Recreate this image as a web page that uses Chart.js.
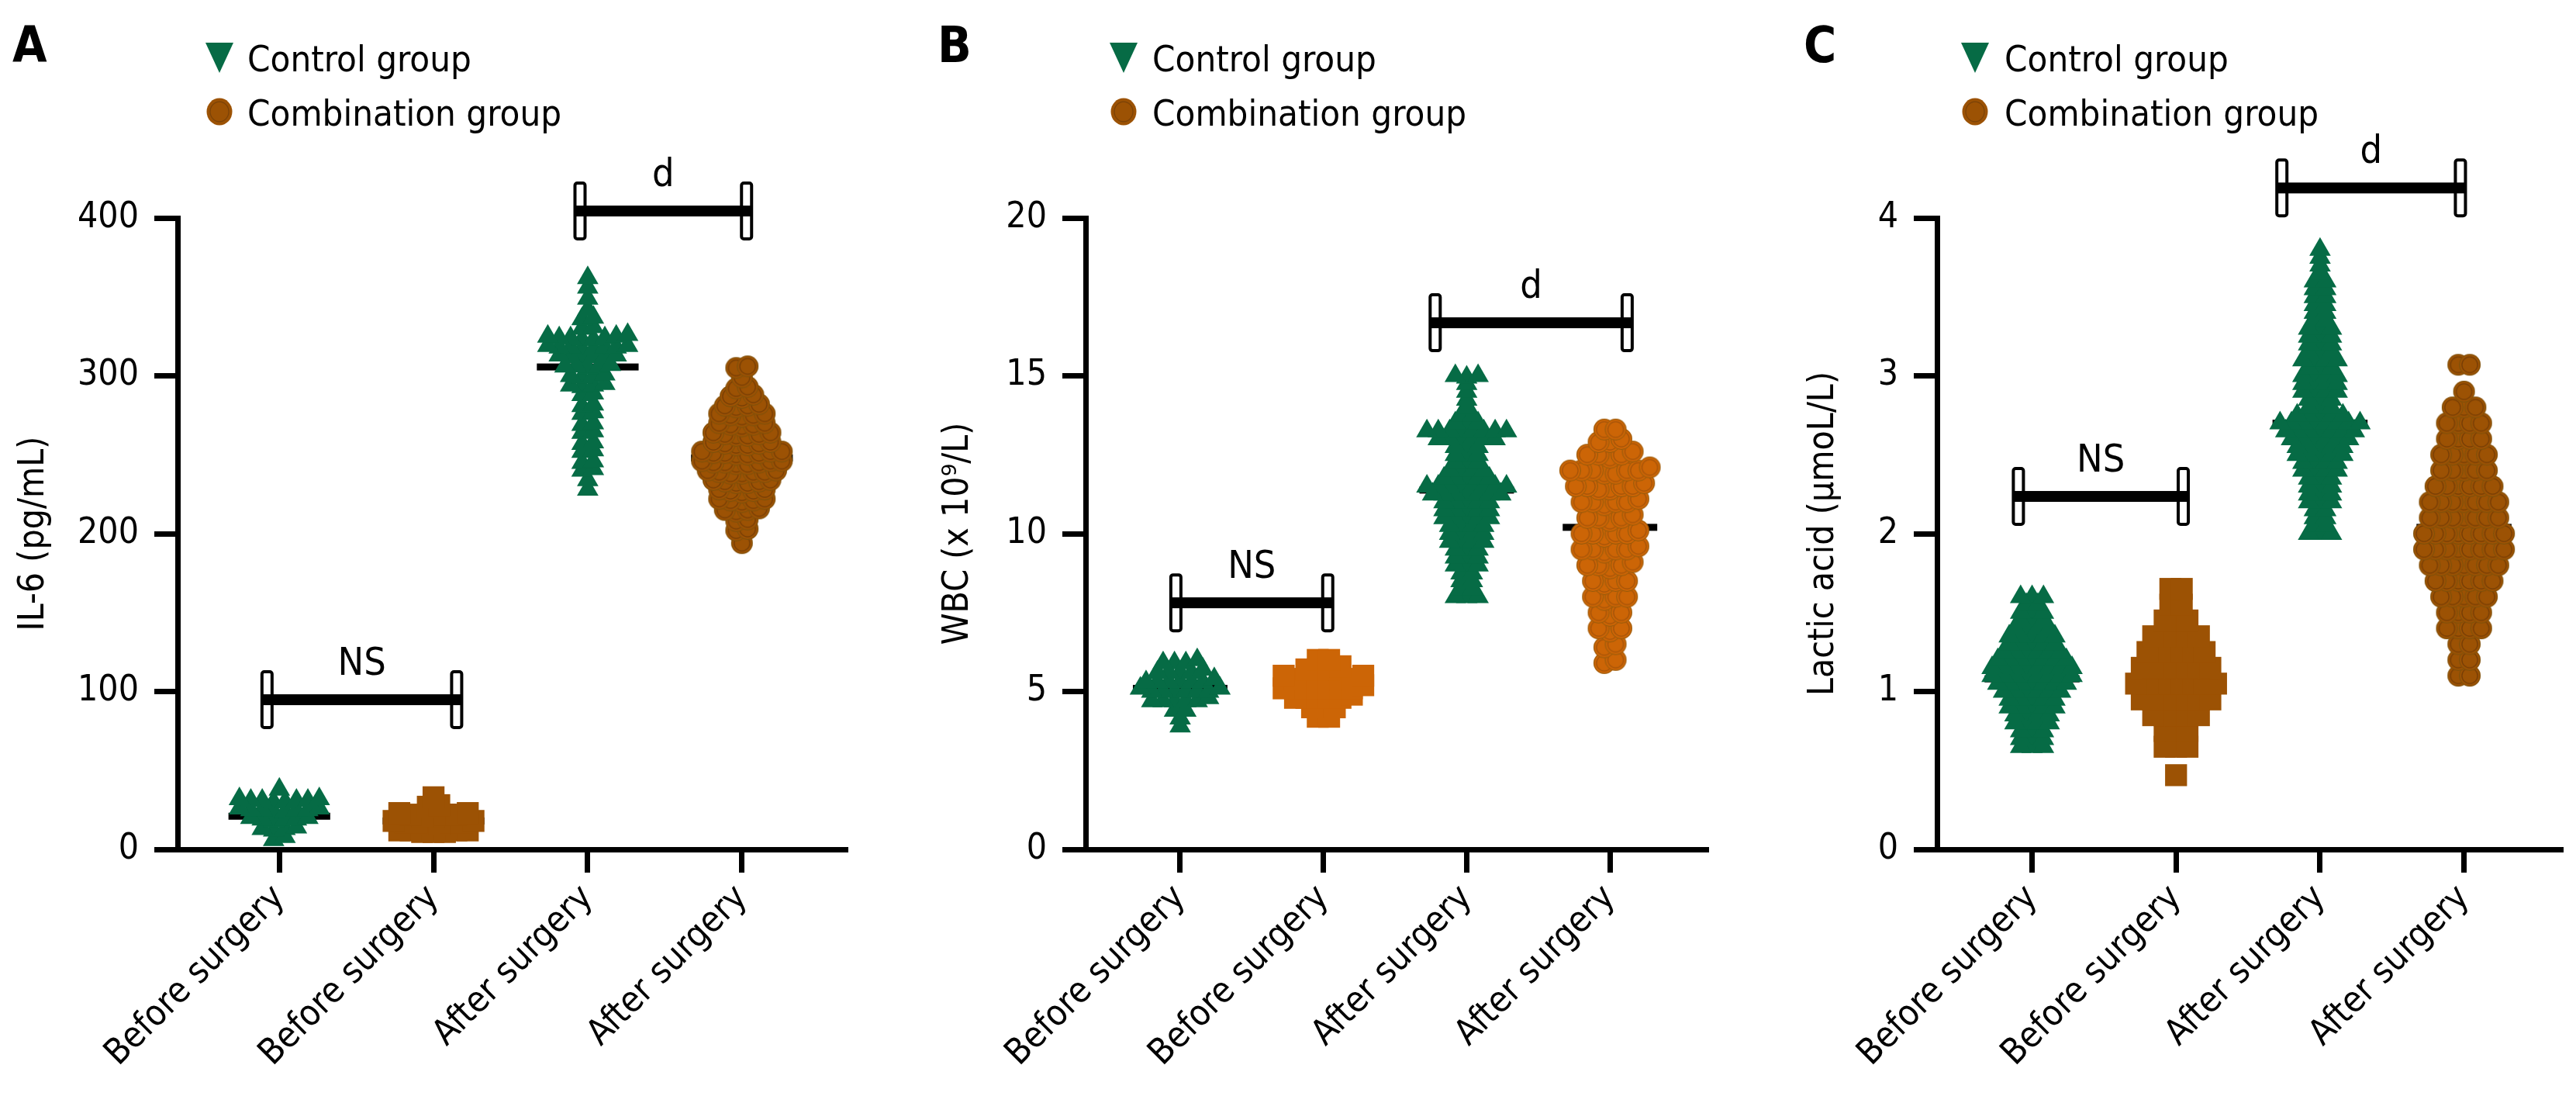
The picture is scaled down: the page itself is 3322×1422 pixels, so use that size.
<!DOCTYPE html>
<html>
<head>
<meta charset="utf-8">
<script src="https://cdn.jsdelivr.net/npm/chart.js@4.4.1/dist/chart.umd.min.js"></script>
<style>
  html, body { margin:0; padding:0; background:#fff; }
  body { width:3322px; height:1422px; position:relative; overflow:hidden; }
  canvas { position:absolute; top:0; }
</style>
</head>
<body>
<canvas id="cA" width="1110" height="1422" style="left:0px;width:1110px;height:1422px"></canvas>
<canvas id="cB" width="1110" height="1422" style="left:1110px;width:1110px;height:1422px"></canvas>
<canvas id="cC" width="1110" height="1422" style="left:2212px;width:1110px;height:1422px"></canvas>
<script>
// ---------------- DATA ----------------
const categories = ['Before surgery', 'Before surgery', 'After surgery', 'After surgery'];
const legendLabels = ['Control group', 'Combination group'];
const panelLetters = ['A', 'B', 'C'];
const yTitles = ['IL-6 (pg/mL)', 'WBC (x 10\u2079/L)', 'Lactic acid (\u00b5moL/L)'];

const il6Ticks = [0, 100, 200, 300, 400];
const wbcTicks = [0, 5, 10, 15, 20];
const lacticTicks = [0, 1, 2, 3, 4];

// IL-6 (pg/mL)
const il6BeforeControl = [38, 32, 31, 31, 31, 30, 32, 31, 30, 26, 25, 25, 24, 26, 25, 24, 25, 20, 19, 19, 18, 20, 19, 14, 13, 12, 13, 8, 6];
const il6BeforeCombination = [33, 27, 28, 23, 22, 22, 21, 22, 23, 21, 17, 18, 17, 16, 17, 18, 16, 17, 12, 11, 12, 12, 11, 12, 11];
const il6AfterControl = [362, 356, 349, 342, 336, 337, 330, 331,
  324, 325, 323, 324, 326, 324, 325, 323,
  318, 319, 317, 318, 318, 319, 317, 318,
  312, 313, 311, 312, 312, 313,
  306, 305, 306, 307, 306,
  300, 301, 299, 300,
  294, 295, 293, 294,
  288, 289, 282, 281, 276, 277, 270, 269, 264, 265, 258, 257, 252, 253, 246, 245, 240, 241, 234, 228];
const il6AfterCombination = [305, 306, 299, 293, 292, 287, 288, 286,
  281, 282, 280, 281,
  275, 276, 274, 275, 276,
  269, 270, 268, 269, 270,
  263, 264, 262, 263, 264, 262,
  257, 258, 256, 257, 258, 256,
  251, 252, 250, 251, 252, 250, 251, 252,
  245, 246, 244, 245, 246, 244, 245, 246,
  239, 240, 238, 239, 240, 238, 239,
  233, 234, 232, 233, 234, 232,
  227, 228, 226, 227, 228,
  221, 222, 220, 221, 222,
  215, 216, 214, 215,
  209, 208, 203, 202, 194];
const il6Means = [21, 18, 305.6, 248];

// WBC (x 10^9/L)
const wbcBeforeControl = [5.9, 6.0, 5.9, 5.9,
  5.6, 5.6, 5.7, 5.6, 5.6,
  5.3, 5.3, 5.3, 5.4, 5.3, 5.3, 5.3,
  5.0, 5.0, 5.1, 5.0, 5.0, 5.0, 5.0, 5.1,
  4.7, 4.7, 4.7, 4.8, 4.7, 4.7,
  4.4, 4.4, 4.15, 3.9];
const wbcBeforeCombination = [6.0, 6.0,
  5.7, 5.7, 5.7, 5.8,
  5.4, 5.4, 5.4, 5.5, 5.4, 5.4, 5.4, 5.5,
  5.1, 5.1, 5.1, 5.2, 5.1, 5.1, 5.1, 5.1,
  4.8, 4.8, 4.8, 4.9, 4.8, 4.8,
  4.5, 4.5, 4.5, 4.2, 4.2];
const wbcAfterControl = [15.0, 15.0, 14.95, 14.75, 14.5, 14.25, 14.0,
  13.75, 13.75, 13.5, 13.5, 13.5,
  13.25, 13.25, 13.25, 13.25, 13.25, 13.25, 13.25, 13.25,
  13.0, 13.0, 13.0, 13.0, 13.0, 13.0,
  12.75, 12.75, 12.75, 12.5, 12.5, 12.5, 12.25, 12.25, 12.25,
  12.0, 12.0, 12.0, 12.0,
  11.75, 11.75, 11.75, 11.75, 11.75,
  11.5, 11.5, 11.5, 11.5, 11.5, 11.5, 11.5, 11.5,
  11.25, 11.25, 11.25, 11.25, 11.25, 11.25, 11.25,
  11.0, 11.0, 11.0, 11.0, 11.0,
  10.75, 10.75, 10.75, 10.75, 10.75,
  10.5, 10.5, 10.5, 10.5, 10.5,
  10.25, 10.25, 10.25, 10.25,
  10.0, 10.0, 10.0, 10.0,
  9.75, 9.75, 9.75, 9.75,
  9.5, 9.5, 9.5, 9.25, 9.25, 9.25, 9.0, 9.0, 9.0,
  8.75, 8.75, 8.5, 8.5, 8.25, 8.25, 8.0, 8.0, 8.0];
const wbcAfterCombination = [13.3, 13.3,
  12.9, 13.0, 12.9,
  12.5, 12.5, 12.4, 12.5, 12.6,
  12.0, 12.0, 11.9, 12.0, 12.1, 12.0, 11.9, 12.0,
  11.5, 11.5, 11.4, 11.5, 11.6, 11.5, 11.4,
  11.0, 11.0, 10.9, 11.0, 11.1, 11.0,
  10.5, 10.5, 10.4, 10.5, 10.6,
  10.0, 10.0, 9.9, 10.0, 10.1, 10.0,
  9.5, 9.5, 9.4, 9.5, 9.6, 9.5,
  9.0, 9.0, 8.9, 9.0, 9.1,
  8.5, 8.5, 8.4, 8.5,
  8.0, 8.0, 7.9, 8.0,
  7.5, 7.5, 7.4,
  7.0, 7.0, 6.9,
  6.5, 6.4,
  6.0, 5.9];
const wbcMeans = [5.1, 5.1, 11.38, 10.2];

// Lactic acid (umol/L)
const lacticBeforeControl = [1.60, 1.60, 1.60, 1.55, 1.55,
  1.50, 1.50, 1.50, 1.45, 1.45, 1.45,
  1.40, 1.40, 1.40, 1.40,
  1.35, 1.35, 1.35, 1.35, 1.35,
  1.30, 1.30, 1.30, 1.30, 1.30,
  1.25, 1.25, 1.25, 1.25, 1.25, 1.25,
  1.20, 1.20, 1.20, 1.20, 1.20, 1.20, 1.20,
  1.15, 1.15, 1.15, 1.15, 1.15, 1.15, 1.15, 1.15,
  1.10, 1.10, 1.10, 1.10, 1.10, 1.10, 1.10, 1.10,
  1.05, 1.05, 1.05, 1.05, 1.05, 1.05, 1.05,
  1.00, 1.00, 1.00, 1.00, 1.00, 1.00,
  0.95, 0.95, 0.95, 0.95, 0.95,
  0.90, 0.90, 0.90, 0.90, 0.90,
  0.85, 0.85, 0.85, 0.85,
  0.80, 0.80, 0.80, 0.80,
  0.75, 0.75, 0.75, 0.70, 0.70, 0.70, 0.65, 0.65, 0.65];
const lacticBeforeCombination = [1.65, 1.65,
  1.55, 1.55,
  1.45, 1.45, 1.45,
  1.35, 1.35, 1.35, 1.35, 1.35,
  1.25, 1.25, 1.25, 1.25, 1.25, 1.25,
  1.15, 1.15, 1.15, 1.15, 1.15, 1.15, 1.15,
  1.05, 1.05, 1.05, 1.05, 1.05, 1.05, 1.05, 1.05,
  0.95, 0.95, 0.95, 0.95, 0.95, 0.95, 0.95,
  0.85, 0.85, 0.85, 0.85, 0.85,
  0.75, 0.75, 0.75,
  0.65, 0.65, 0.65,
  0.47];
const lacticAfterControl = [3.80, 3.75, 3.70, 3.65, 3.60, 3.60, 3.55, 3.55,
  3.50, 3.50, 3.45, 3.45, 3.40, 3.40, 3.35, 3.35,
  3.30, 3.30, 3.30, 3.25, 3.25, 3.25, 3.20, 3.20, 3.20, 3.15, 3.15, 3.15,
  3.10, 3.10, 3.10, 3.10, 3.05, 3.05, 3.05,
  3.00, 3.00, 3.00, 3.00, 2.95, 2.95, 2.95, 2.95,
  2.90, 2.90, 2.90, 2.90, 2.85, 2.85, 2.85, 2.80, 2.80, 2.80,
  2.75, 2.75, 2.75, 2.75, 2.75,
  2.70, 2.70, 2.70, 2.70, 2.70, 2.70, 2.70, 2.70,
  2.65, 2.65, 2.65, 2.65, 2.65, 2.65, 2.65,
  2.60, 2.60, 2.60, 2.60, 2.60, 2.60,
  2.55, 2.55, 2.55, 2.55, 2.55,
  2.50, 2.50, 2.50, 2.50, 2.50,
  2.45, 2.45, 2.45, 2.45, 2.40, 2.40, 2.40, 2.40,
  2.35, 2.35, 2.35, 2.30, 2.30, 2.30, 2.25, 2.25, 2.25, 2.20, 2.20, 2.20,
  2.15, 2.15, 2.10, 2.10, 2.05, 2.05, 2.00, 2.00, 2.00];
const lacticAfterCombination = [3.07, 3.07, 2.9,
  2.8, 2.8, 2.8,
  2.7, 2.7, 2.7, 2.7,
  2.6, 2.6, 2.6, 2.6,
  2.5, 2.5, 2.5, 2.5, 2.5,
  2.4, 2.4, 2.4, 2.4, 2.4,
  2.3, 2.3, 2.3, 2.3, 2.3, 2.3,
  2.2, 2.2, 2.2, 2.2, 2.2, 2.2, 2.2,
  2.1, 2.1, 2.1, 2.1, 2.1, 2.1, 2.1,
  2.0, 2.0, 2.0, 2.0, 2.0, 2.0, 2.0, 2.0,
  1.9, 1.9, 1.9, 1.9, 1.9, 1.9, 1.9, 1.9,
  1.8, 1.8, 1.8, 1.8, 1.8, 1.8, 1.8,
  1.7, 1.7, 1.7, 1.7, 1.7, 1.7,
  1.6, 1.6, 1.6, 1.6, 1.6,
  1.5, 1.5, 1.5, 1.5,
  1.4, 1.4, 1.4, 1.4,
  1.3, 1.3, 1.2, 1.2, 1.1, 1.1];
const lacticMeans = [1.08, 1.03, 2.70, 2.04];

// significance brackets: [fromCategory, toCategory, value, label]
const il6Brackets = [[-0.08, 1.15, 94.8, 'NS'], [1.95, 3.03, 404.4, 'd']];
const wbcBrackets = [[-0.03, 1.03, 7.81, 'NS'], [1.78, 3.12, 16.68, 'd']];
const lacticBrackets = [[-0.095, 1.05, 2.236, 'NS'], [1.735, 2.975, 4.19, 'd']];

// ---------------- STYLE / LAYOUT ----------------
const FONT = "'DejaVu Sans Condensed', 'DejaVu Sans', sans-serif";
const GREEN = '#066b45';
const BROWN = '#9c5204';
const ORANGE = '#cc6506';
const PLOT_TOP = 281, PLOT_H = 814;

Chart.defaults.font.family = FONT;
Chart.defaults.color = '#000';

function makeCircle(r, fill, ring) {
  const c = document.createElement('canvas');
  const s = Math.ceil(2 * r + 2);
  c.width = s; c.height = s;
  const g = c.getContext('2d');
  g.fillStyle = fill;
  g.beginPath(); g.arc(s / 2, s / 2, r, 0, Math.PI * 2); g.fill();
  g.strokeStyle = ring; g.lineWidth = 1.3;
  g.beginPath(); g.arc(s / 2, s / 2, r * 0.72, 0, Math.PI * 2); g.stroke();
  g.strokeStyle = 'rgba(90,80,20,0.5)'; g.lineWidth = 1;
  g.beginPath(); g.arc(s / 2, s / 2, r - 0.5, 0, Math.PI * 2); g.stroke();
  return c;
}

// scatter-dot layout: values that fall in the same row are spread sideways, centred on the category
function rowLayout(values, cat, ppc, cw, tol, maxHalf) {
  const sorted = values.slice().sort((a, b) => a - b);
  const rows = [];
  let cur = null;
  sorted.forEach(v => {
    if (!cur || v - cur.start >= tol) { cur = { start: v, vals: [] }; rows.push(cur); }
    cur.vals.push(v);
  });
  const out = [];
  rows.forEach(r => {
    const n = r.vals.length;
    const sp = n > 1 ? Math.min(cw, 2 * maxHalf / (n - 1)) : 0;
    const order = [];
    for (let j = 0; j < n; j++) order.push(j);
    order.sort((a, b) => Math.abs(a - (n - 1) / 2) - Math.abs(b - (n - 1) / 2));
    r.vals.forEach((v, k) => {
      const j = order[k];
      const off = (j - (n - 1) / 2) * sp;
      out.push({ x: cat + off / ppc, y: v });
    });
  });
  return out;
}

const panels = [
  { id: 'cA', letter: panelLetters[0], yTitle: yTitles[0], ticks: il6Ticks,
    groups: [il6BeforeControl, il6BeforeCombination, il6AfterControl, il6AfterCombination],
    means: il6Means, brackets: il6Brackets, comboColor: BROWN, tol: [4, 4, 4, 4],
    yw: 229, padRight: 4, titlePad: 16, ppc: 202.7,
    letterX: 16, legendX: 283, legendTextX: 319 },
  { id: 'cB', letter: panelLetters[1], yTitle: yTitles[1], ticks: wbcTicks,
    groups: [wbcBeforeControl, wbcBeforeCombination, wbcAfterControl, wbcAfterCombination],
    means: wbcMeans, brackets: wbcBrackets, comboColor: ORANGE, tol: [0.15, 0.15, 0.12, 0.22],
    yw: 290, padRight: 2, titlePad: 98, ppc: 189,
    letterX: 99, legendX: 339, legendTextX: 376 },
  { id: 'cC', letter: panelLetters[2], yTitle: yTitles[2], ticks: lacticTicks,
    groups: [lacticBeforeControl, lacticBeforeCombination, lacticAfterControl, lacticAfterCombination],
    means: lacticMeans, brackets: lacticBrackets, comboColor: BROWN, tol: [0.025, 0.05, 0.025, 0.05],
    yw: 286, padRight: 2, titlePad: 112, ppc: 189,
    letterX: 114, legendX: 335, legendTextX: 373 }
];

function decorPlugin(p) {
  return {
    id: 'decor' + p.id,
    beforeDatasetsDraw(chart) {
      const ctx = chart.ctx, xs = chart.scales.x, ys = chart.scales.y;
      ctx.save();
      ctx.fillStyle = '#000';
      p.means.forEach((m, i) => {
        const x1 = xs.getPixelForValue(i - 0.33), x2 = xs.getPixelForValue(i + 0.33);
        const y = ys.getPixelForValue(m);
        ctx.fillRect(x1, y - 4.5, x2 - x1, 9);
      });
      ctx.restore();
    },
    afterDraw(chart) {
      const ctx = chart.ctx, xs = chart.scales.x, ys = chart.scales.y;
      ctx.save();
      p.brackets.forEach(([a, b, v, label]) => {
        const x1 = xs.getPixelForValue(a), x2 = xs.getPixelForValue(b), y = ys.getPixelForValue(v);
        const cw = 13, chh = 72;
        [x1, x2].forEach(x => {
          ctx.beginPath();
          if (ctx.roundRect) ctx.roundRect(x - cw / 2, y - chh / 2, cw, chh, 3);
          else ctx.rect(x - cw / 2, y - chh / 2, cw, chh);
          ctx.fillStyle = '#fff'; ctx.fill();
          ctx.lineWidth = 4; ctx.strokeStyle = '#000'; ctx.stroke();
        });
        ctx.fillStyle = '#000';
        ctx.fillRect(x1 - cw / 2, y - 7, (x2 - x1) + cw, 14);
        ctx.font = '50px ' + FONT;
        ctx.textAlign = 'center';
        ctx.textBaseline = 'alphabetic';
        ctx.fillText(label, (x1 + x2) / 2, y - 32);
      });
      ctx.fillStyle = '#000';
      ctx.font = 'bold 64px ' + FONT;
      ctx.textAlign = 'left';
      ctx.textBaseline = 'alphabetic';
      ctx.fillText(p.letter, p.letterX, 80);
      const lx = p.legendX;
      ctx.fillStyle = GREEN;
      ctx.beginPath();
      ctx.moveTo(lx - 18, 55); ctx.lineTo(lx + 18, 55); ctx.lineTo(lx, 94); ctx.closePath();
      ctx.fill();
      ctx.fillStyle = BROWN;
      ctx.beginPath(); ctx.ellipse(lx, 144, 16.5, 17.5, 0, 0, Math.PI * 2); ctx.fill();
      ctx.strokeStyle = '#7a4208'; ctx.lineWidth = 1.2;
      ctx.beginPath(); ctx.ellipse(lx, 144, 12, 12.8, 0, 0, Math.PI * 2); ctx.stroke();
      ctx.fillStyle = '#000';
      ctx.font = '47px ' + FONT;
      ctx.fillText(legendLabels[0], p.legendTextX, 92);
      ctx.fillText(legendLabels[1], p.legendTextX, 162);
      ctx.restore();
    }
  };
}

function axisGrid() {
  return { display: true, drawOnChartArea: false, drawTicks: true, tickLength: 30,
           lineWidth: 7, tickWidth: 7, color: '#000', tickColor: '#000' };
}

panels.forEach(p => {
  const yMax = p.ticks[p.ticks.length - 1];
  const maxHalf = 0.28 * p.ppc;
  const styles = [
    { pointStyle: 'triangle', radius: 16, color: GREEN },
    { pointStyle: 'rect', radius: 20, color: p.comboColor },
    { pointStyle: 'triangle', radius: 16, color: GREEN },
    { pointStyle: makeCircle(14, p.comboColor, p.comboColor === ORANGE ? '#a5540a' : '#763e06'), radius: 14, color: p.comboColor }
  ];
  const datasets = p.groups.map((vals, gi) => {
    const st = styles[gi];
    return {
      label: legendLabels[gi % 2],
      data: rowLayout(vals, gi, p.ppc, 15, p.tol[gi], maxHalf),
      pointStyle: st.pointStyle,
      pointRadius: st.radius,
      backgroundColor: st.color,
      borderColor: st.color,
      borderWidth: 0,
      clip: false
    };
  });
  new Chart(document.getElementById(p.id), {
    type: 'scatter',
    data: { datasets },
    options: {
      responsive: false,
      animation: false,
      events: [],
      devicePixelRatio: 1,
      layout: { padding: { top: PLOT_TOP, right: p.padRight, left: 0, bottom: 0 } },
      plugins: { legend: { display: false }, tooltip: { enabled: false } },
      scales: {
        x: {
          type: 'linear', min: -0.66, max: 3.67,
          afterBuildTicks: s => { s.ticks = categories.map((c, i) => ({ value: i })); },
          afterFit: s => { s.height = 1422 - PLOT_TOP - PLOT_H; },
          ticks: { autoSkip: false, minRotation: 45, maxRotation: 45, padding: 6, color: '#000',
                   font: { size: 46 }, callback: v => categories[Math.round(v)] },
          grid: axisGrid(),
          border: { display: true, color: '#000', width: 7 }
        },
        y: {
          type: 'linear', min: 0, max: yMax,
          afterBuildTicks: s => { s.ticks = p.ticks.map(v => ({ value: v })); },
          afterFit: s => { s.width = p.yw; },
          ticks: { padding: 20, color: '#000', font: { size: 46 } },
          title: { display: true, text: p.yTitle, color: '#000', font: { size: 46 },
                   padding: { top: p.titlePad, bottom: 0 } },
          grid: axisGrid(),
          border: { display: true, color: '#000', width: 7 }
        }
      }
    },
    plugins: [decorPlugin(p)]
  });
});
</script>
</body>
</html>
